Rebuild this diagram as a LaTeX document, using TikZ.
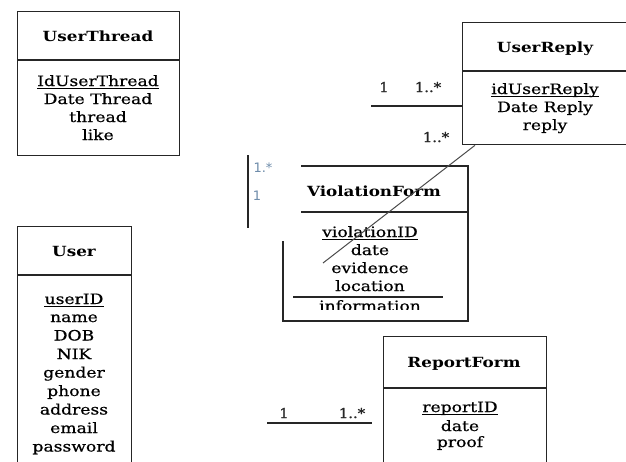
\documentclass[tikz,border=0pt]{standalone}
\usepackage{fontspec}
\setmainfont[FakeStretch=1.2]{DejaVu Serif}
\newfontfamily\attrfont[FakeStretch=1.2,FakeBold=0.6]{DejaVu Serif}
\newfontfamily\multfont[FakeStretch=1.1,FakeBold=1.2]{DejaVu Serif}
\newfontfamily\lblsans{DejaVu Sans}
\begin{document}
\begin{tikzpicture}[x=1pt,y=-1pt,
  boxline/.style={line width=1.3pt, draw=black!85},
  box/.style={boxline, rectangle, inner sep=0pt, anchor=north west},
  ttl/.style={anchor=base, inner sep=0pt, font=\fontsize{14}{16}\selectfont\bfseries},
  attr/.style={anchor=base, inner sep=0pt, font=\attrfont\fontsize{14.3}{16}\selectfont},
  ulline/.style={line width=1.4pt},
  mult/.style={anchor=base, inner sep=0pt, font=\multfont\fontsize{13.5}{15}\selectfont, text=black!85},
  multlight/.style={anchor=base, inner sep=0pt, font=\lblsans\fontsize{13}{15}\selectfont, text={rgb,255:red,110;green,140;blue,170}},
  conn/.style={line width=1.3pt, draw=black!85},
  diag/.style={line width=1pt, draw=black!70}
]
\clip (0,0) rectangle (626,461);
\fill[white] (0,0) rectangle (626,461);

% ---------- UserThread ----------
\node[box, minimum width=162pt, minimum height=144pt] (ut) at (17,11) {};
\draw[boxline] (17,60) -- (179,60);
\node[ttl] (utT) at (98,41) {UserThread};
\node[attr] (ut1) at (98,86) {IdUserThread};
\draw[ulline] ([yshift=-2.5pt]ut1.base west) -- ([yshift=-2.5pt]ut1.base east);
\node[attr] (ut2) at (98,104) {Date Thread};
\node[attr] (ut3) at (98,122) {thread};
\node[attr] (ut4) at (98,140) {like};

% ---------- UserReply ----------
\node[box, minimum width=166pt, minimum height=122pt] (ur) at (462,22) {};
\draw[boxline] (462,71) -- (628,71);
\node[ttl] (urT) at (545,52) {UserReply};
\node[attr] (ur1) at (545,94) {idUserReply};
\draw[ulline] ([yshift=-2.5pt]ur1.base west) -- ([yshift=-2.5pt]ur1.base east);
\node[attr] (ur2) at (545,112) {Date Reply};
\node[attr] (ur3) at (545,130) {reply};

\coordinate (urL) at (371,106);
\draw[conn] (urL) -- (urL -| ur.west);
\node[mult] (m1) at (384,92) {1};
\node[mult] (m2) at (428,92) {1..*};
\node[mult] (m3) at (436,142) {1..*};

% ---------- ViolationForm ----------
\coordinate (vfTL) at (301,166);
\coordinate (vfTR) at (468,166);
\coordinate (vfBR) at (468,321);
\coordinate (vfBL) at (283,321);
\coordinate (vfLT) at (283,241);
\draw[boxline] (vfTL) -- (vfTR) -- (vfBR) -- (vfBL) -- (vfLT);
\draw[boxline] (301,212) -- (468,212);
\node[ttl] (vfT) at (374,196) {ViolationForm};
\node[attr] (vf1) at (370,237) {violationID};
\draw[ulline] ([yshift=-2.5pt]vf1.base west) -- ([yshift=-2.5pt]vf1.base east);
\node[attr] (vf2) at (370,255) {date};
\node[attr] (vf3) at (370,273) {evidence};
\node[attr] (vf4) at (370,291) {location};
\begin{scope}
  \clip (285,298) rectangle (466,309.5);
  \node[attr] (vf5) at (370,311) {information};
\end{scope}
\draw[boxline] (293,297) -- (443,297);

% diagonal from UserReply
\coordinate (dEnd) at (323,263);
\draw[diag] ([xshift=13pt]ur.south west) -- (dEnd);

% vertical line with light labels
\coordinate (vA) at (248,155);
\coordinate (vB) at (248,228);
\draw[conn] (vA) -- (vB);
\node[multlight] (m4) at (263,172) {1.*};
\node[multlight] (m5) at (257,200) {1};

% ---------- User ----------
\node[box, minimum width=114pt, minimum height=250pt] (us) at (17,226) {};
\draw[boxline] (17,275) -- (131,275);
\node[ttl] (usT) at (74,256) {User};
\node[attr] (us1) at (74,304) {userID};
\draw[ulline] ([yshift=-2.5pt]us1.base west) -- ([yshift=-2.5pt]us1.base east);
\node[attr] (us2) at (74,322) {name};
\node[attr] (us3) at (74,340.5) {DOB};
\node[attr] (us4) at (74,359) {NIK};
\node[attr] (us5) at (74,377.5) {gender};
\node[attr] (us6) at (74,396) {phone};
\node[attr] (us7) at (74,414.5) {address};
\node[attr] (us8) at (74,433) {email};
\node[attr] (us9) at (74,451.5) {password};

% ---------- ReportForm ----------
\node[box, minimum width=163pt, minimum height=140pt] (rf) at (383,336) {};
\draw[boxline] (383,388) -- (546,388);
\node[ttl] (rfT) at (464,367) {ReportForm};
\node[attr] (rf1) at (460,412) {reportID};
\draw[ulline] ([yshift=-2.5pt]rf1.base west) -- ([yshift=-2.5pt]rf1.base east);
\node[attr] (rf2) at (460,431) {date};
\node[attr] (rf3) at (460,447) {proof};

\coordinate (rfA) at (267,423);
\coordinate (rfB) at (372,423);
\draw[conn] (rfA) -- (rfB);
\node[mult] (m6) at (284,418) {1};
\node[mult] (m7) at (352,418) {1..*};
\end{tikzpicture}
\end{document}
